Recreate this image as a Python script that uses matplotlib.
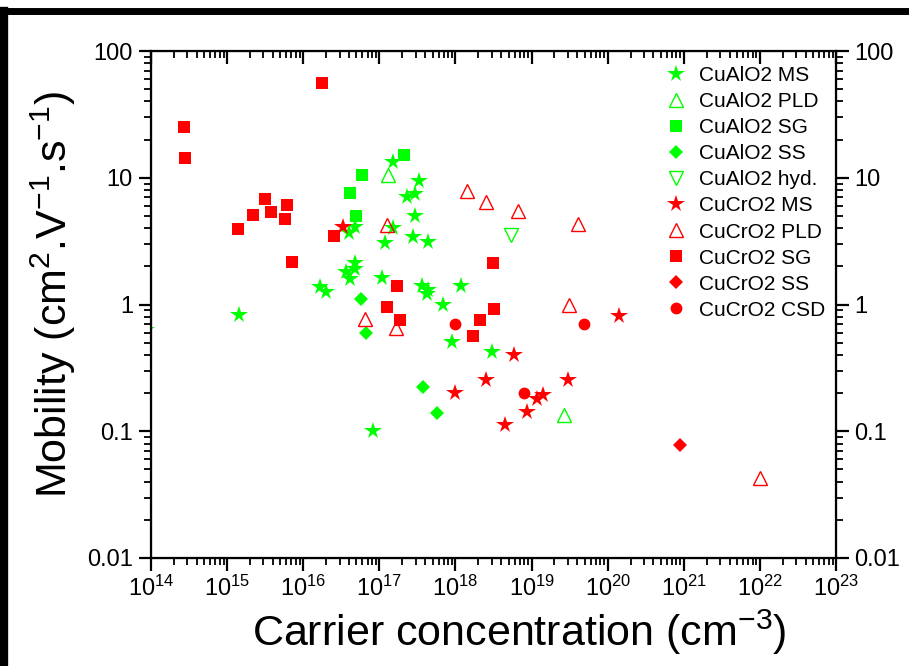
import matplotlib
matplotlib.use('Agg')
import matplotlib.pyplot as plt
from matplotlib.lines import Line2D

plt.rcParams['font.family'] = ['Liberation Sans', 'DejaVu Sans']
plt.rcParams['mathtext.fontset'] = 'custom'
plt.rcParams['mathtext.rm'] = 'Liberation Sans'
plt.rcParams['mathtext.it'] = 'Liberation Sans'

# CuAlO2 data
alo_ms_n = [8.6e13, 1.43e15, 1.66e16, 2.0e16, 3.65e16, 4.12e16, 4.8e16, 4.8e16, 3.96e16, 4.8e16,
            8.2e16, 1.09e17, 1.19e17, 1.5e17, 1.53e17, 2.29e17, 2.8e17, 2.98e17, 2.98e17, 3.3e17,
            3.67e17, 4.2e17, 4.4e17, 4.4e17, 6.95e17, 8.9e17, 1.19e18, 3.05e18]
alo_ms_mu = [0.63, 0.826, 1.38, 1.26, 1.80, 1.59, 2.11, 1.90, 3.65, 4.11,
             0.10, 1.62, 3.04, 13.2, 4.03, 7.05, 3.39, 7.48, 5.02, 9.4,
             1.41, 1.20, 1.30, 3.13, 1.0, 0.504, 1.40, 0.422]
alo_pld_n = [1.3e17, 2.7e19]
alo_pld_mu = [10.6, 0.134]
alo_sg_n = [2.09e17, 5.93e16, 4.12e16, 4.99e16]
alo_sg_mu = [15.1, 10.6, 7.53, 5.02]
alo_ss_n = [5.8e16, 6.68e16, 3.79e17, 5.67e17]
alo_ss_mu = [1.10, 0.60, 0.223, 0.14]
alo_hyd_n = [5.38e18]
alo_hyd_mu = [3.53]

# CuCrO2 data
cro_ms_n = [3.3e16, 5.94e18, 2.5e18, 9.9e17, 1.17e19, 1.40e19, 8.6e18, 4.5e18, 2.98e19, 1.41e20]
cro_ms_mu = [4.08, 0.40, 0.252, 0.201, 0.181, 0.193, 0.141, 0.112, 0.254, 0.817]
cro_pld_n = [1.41e18, 2.53e18, 6.58e18, 4.12e19, 1.25e17, 6.5e16, 1.64e17, 3.14e19, 1.0e22]
cro_pld_mu = [7.86, 6.44, 5.47, 4.3, 4.22, 0.773, 0.648, 0.99, 0.043]
cro_sg_n = [2.7e14, 2.8e14, 1.77e16, 1.39e15, 2.19e15, 3.15e15, 3.78e15, 6.1e15, 5.8e15, 7.1e15,
            2.54e16, 1.69e17, 1.27e17, 1.87e17, 3.15e18, 3.18e18, 2.12e18, 1.69e18]
cro_sg_mu = [25, 14.3, 56, 3.95, 5.08, 6.8, 5.37, 6.1, 4.73, 2.16,
             3.47, 1.41, 0.96, 0.76, 2.14, 0.927, 0.76, 0.564]
cro_ss_n = [8.8e20]
cro_ss_mu = [0.078]
cro_csd_n = [1.0e18, 4.94e19, 7.98e18]
cro_csd_mu = [0.706, 0.706, 0.20]

y_ticks = [0.01, 0.1, 1, 10, 100]
y_labels = ['0.01', '0.1', '1', '10', '100']

green = '#00ff00'
red = '#ff0000'

fig = plt.figure(figsize=(9.09, 6.66), dpi=100)
ax = fig.add_axes([151 / 909, 1 - 558 / 666, 685 / 909, 507 / 666])

ax.plot(alo_ms_n, alo_ms_mu, '*', color=green, ms=13, mew=0, label='CuAlO2 MS')
ax.plot(alo_pld_n, alo_pld_mu, '^', mfc='none', mec=green, ms=10, mew=1, label='CuAlO2 PLD')
ax.plot(alo_sg_n, alo_sg_mu, 's', color=green, ms=8, mew=0, label='CuAlO2 SG')
ax.plot(alo_ss_n, alo_ss_mu, 'D', color=green, ms=7.5, mew=0, label='CuAlO2 SS')
ax.plot(alo_hyd_n, alo_hyd_mu, 'v', mfc='none', mec=green, ms=10, mew=1, label='CuAlO2 hyd.')
ax.plot(cro_ms_n, cro_ms_mu, '*', color=red, ms=13, mew=0, label='CuCrO2 MS')
ax.plot(cro_pld_n, cro_pld_mu, '^', mfc='none', mec=red, ms=10, mew=1, label='CuCrO2 PLD')
ax.plot(cro_sg_n, cro_sg_mu, 's', color=red, ms=8, mew=0, label='CuCrO2 SG')
ax.plot(cro_ss_n, cro_ss_mu, 'D', color=red, ms=7.5, mew=0, label='CuCrO2 SS')
ax.plot(cro_csd_n, cro_csd_mu, 'o', color=red, ms=8.5, mew=0, label='CuCrO2 CSD')

ax.set_xscale('log')
ax.set_yscale('log')
ax.set_xlim(1e14, 1e23)
ax.set_ylim(0.01, 100)
ax.set_xticks([10.0 ** k for k in range(14, 24)])
ax.set_yticks(y_ticks)
ax.set_yticklabels(y_labels)

for s in ax.spines.values():
    s.set_linewidth(1.6)
ax.tick_params(which='major', direction='out', length=9, width=1.6, labelsize=17, pad=4)
ax.tick_params(which='minor', direction='out', length=5, width=1.3)
ax.tick_params(axis='y', which='both', right=True, labelright=True)

ax_top = ax.twiny()
ax_top.set_xscale('log')
ax_top.set_xlim(1e14, 1e23)
ax_top.set_xticks([10.0 ** k for k in range(14, 24)])
ax_top.tick_params(which='major', direction='in', length=9, width=1.6, labeltop=False)
ax_top.tick_params(which='minor', direction='in', length=5, width=1.3)

ax.set_xlabel('Carrier concentration (cm$^{-3}$)', fontsize=31)
ax.xaxis.set_label_coords(0.537, -0.098)
ax.set_ylabel('Mobility (cm$^{2}$.V$^{-1}$.s$^{-1}$)', fontsize=31)
ax.yaxis.set_label_coords(-0.106, 0.52)

ax.legend(loc='upper left', bbox_to_anchor=(666 / 909, 1 - 66 / 666), bbox_transform=fig.transFigure,
          frameon=False, prop={'size': 15}, handlelength=1.0,
          handletextpad=0.6, labelspacing=0.34, borderpad=0, borderaxespad=0)

# black frame on the left and top edges
fig.add_artist(Line2D([4 / 909, 4 / 909], [0, 1 - 11 / 666], color='black', lw=6, transform=fig.transFigure))
fig.add_artist(Line2D([1 / 909, 1], [1 - 11 / 666, 1 - 11 / 666], color='black', lw=5, transform=fig.transFigure))

fig.savefig('out.png', dpi=100)
